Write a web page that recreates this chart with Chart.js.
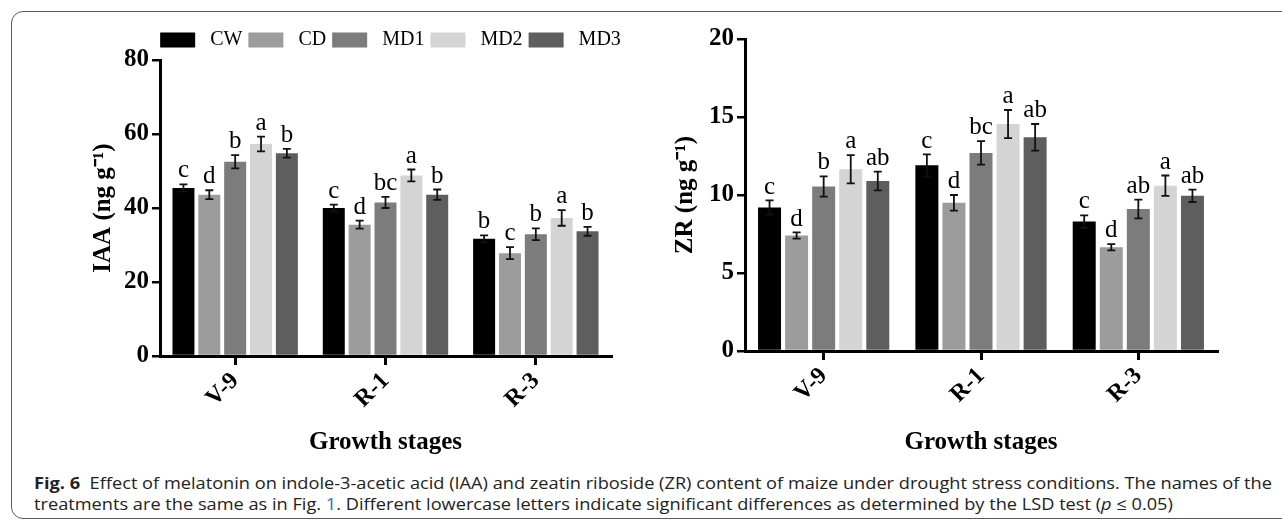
<!DOCTYPE html>
<html>
<head>
<meta charset="utf-8">
<script src="https://cdn.jsdelivr.net/npm/chart.js@4.4.1/dist/chart.umd.min.js"></script>
<style>
  html, body { margin: 0; padding: 0; background: #fff; }
  body { width: 1282px; height: 521px; position: relative; overflow: hidden; }
  .frame {
    position: absolute; left: 11px; top: 11px; width: 1300px; height: 508px;
    border: 1.5px solid #5a5a5a; border-radius: 12px; box-sizing: border-box;
  }
  canvas { position: absolute; top: 0; }
  #iaa { left: 0; }
  #zr { left: 640px; }
  .cap {
    position: absolute; left: 34px; white-space: nowrap;
    font-family: "Open Sans", "Noto Sans", sans-serif; font-size: 16.5px; line-height: 20px;
    color: #222; transform-origin: 0 50%;
  }
  .cap b { font-weight: 700; }
  .cap .ref { color: #2f6fba; }
</style>
</head>
<body>
<div class="frame"></div>
<canvas id="iaa" width="781" height="458"></canvas>
<canvas id="zr" width="642" height="458"></canvas>
<div class="cap" id="cap1" style="top:473px"><b>Fig. 6</b>&nbsp; Effect of melatonin on indole-3-acetic acid (IAA) and zeatin riboside (ZR) content of maize under drought stress conditions. The names of the</div>
<div class="cap" id="cap2" style="top:494px">treatments are the same as in Fig. <span class="ref">1</span>. Different lowercase letters indicate significant differences as determined by the LSD test (<i>p</i> ≤ 0.05)</div>
<script>
// growth stages
const stages = ["V-9", "R-1", "R-3"];
const treatments = ["CW", "CD", "MD1", "MD2", "MD3"];
const colors = ["#000000", "#9c9c9c", "#7c7c7c", "#d4d4d4", "#5e5e5e"];

// IAA (ng g-1)
const iaaCW = [45.4, 40.0, 31.7];
const iaaCD = [43.6, 35.5, 27.8];
const iaaMD1 = [52.5, 41.5, 32.9];
const iaaMD2 = [57.3, 48.8, 37.3];
const iaaMD3 = [54.8, 43.6, 33.7];
const iaaErr = [[1.0, 0.9, 0.9], [1.2, 1.1, 1.6], [1.8, 1.5, 1.6], [2.0, 1.6, 2.1], [1.2, 1.4, 1.2]];
const iaaLetters = [["c", "c", "b"], ["d", "d", "c"], ["b", "bc", "b"], ["a", "a", "a"], ["b", "b", "b"]];

// ZR (ng g-1)
const zrCW = [9.2, 11.9, 8.3];
const zrCD = [7.4, 9.5, 6.65];
const zrMD1 = [10.55, 12.7, 9.1];
const zrMD2 = [11.65, 14.55, 10.6];
const zrMD3 = [10.9, 13.7, 9.95];
const zrErr = [[0.45, 0.7, 0.4], [0.2, 0.5, 0.2], [0.65, 0.75, 0.6], [0.9, 0.9, 0.65], [0.6, 0.85, 0.4]];
const zrLetters = [["c", "c", "c"], ["d", "d", "d"], ["b", "bc", "ab"], ["a", "a", "a"], ["ab", "ab", "ab"]];

const serif = "'Liberation Serif', 'Times New Roman', serif";

// error bars + significance letters on top of each bar
const errorBars = {
  id: "errorBars",
  afterDatasetsDraw(chart, args, opts) {
    const ctx = chart.ctx;
    const y = chart.scales.y;
    ctx.save();
    chart.data.datasets.forEach((ds, i) => {
      const meta = chart.getDatasetMeta(i);
      meta.data.forEach((bar, j) => {
        const v = ds.data[j];
        const e = opts.err[i][j];
        const top = y.getPixelForValue(v + e);
        const bot = y.getPixelForValue(v - e);
        ctx.strokeStyle = "#111";
        ctx.lineWidth = 1.8;
        ctx.beginPath();
        ctx.moveTo(bar.x, top); ctx.lineTo(bar.x, bot);
        ctx.moveTo(bar.x - 4, top); ctx.lineTo(bar.x + 4, top);
        ctx.moveTo(bar.x - 4, bot); ctx.lineTo(bar.x + 4, bot);
        ctx.stroke();
        ctx.fillStyle = "#000";
        ctx.font = "25px " + serif;
        ctx.textAlign = "center";
        ctx.textBaseline = "bottom";
        ctx.fillText(opts.letters[i][j], bar.x, top - 1);
      });
    });
    ctx.restore();
  }
};

function makeDatasets(series) {
  return series.map((d, i) => ({
    label: treatments[i],
    data: d,
    backgroundColor: colors[i],
    borderWidth: 0,
    categoryPercentage: 0.86,
    barPercentage: 0.85
  }));
}

function axisOpts(o) {
  return {
    x: {
      grid: { display: true, drawOnChartArea: false, offset: false, tickLength: 9, lineWidth: 3, color: "#000" },
      border: { display: true, color: "#000", width: 3 },
      ticks: { font: { family: serif, size: 24, weight: "bold" }, color: "#000", minRotation: 45, maxRotation: 45, padding: 2 },
      title: { display: true, text: "Growth stages", font: { family: serif, size: 25, weight: "bold" }, color: "#000", padding: { top: 0, bottom: 0 } },
      afterFit(s) { s.height = o.xHeight; }
    },
    y: {
      min: 0, max: o.max,
      grid: { display: true, drawOnChartArea: false, tickLength: 8, lineWidth: 2.5, color: "#000" },
      border: { display: true, color: "#000", width: 3 },
      ticks: { stepSize: o.step, font: { family: serif, size: 25, weight: "bold" }, color: "#000", padding: 3 },
      title: { display: true, text: o.yTitle, font: { family: serif, size: 25, weight: "bold" }, color: "#000", padding: { top: o.titlePad, bottom: 0 } },
      afterFit(s) { s.width = o.yWidth; }
    }
  };
}

const iaaScales = axisOpts({ max: 80, step: 20, yTitle: "IAA (ng g\u207B\u00B9)", xHeight: 102, yWidth: 160, titlePad: 89 });
// empty box on the right so the legend can sit wider than the plot
iaaScales.yR = {
  type: "linear", position: "right", display: true,
  grid: { display: false }, border: { display: false }, ticks: { display: false },
  afterFit(s) { s.width = 170; }
};

new Chart(document.getElementById("iaa"), {
  type: "bar",
  data: { labels: stages, datasets: makeDatasets([iaaCW, iaaCD, iaaMD1, iaaMD2, iaaMD3]) },
  options: {
    responsive: false, animation: false, devicePixelRatio: 1, events: [],
    layout: { padding: { top: 24, left: 0, right: 0, bottom: 0 } },
    scales: iaaScales,
    plugins: {
      tooltip: { enabled: false },
      legend: {
        display: true, position: "top",
        labels: {
          boxWidth: 35, boxHeight: 15, padding: 6, color: "#000",
          font: { family: serif, size: 20 },
          generateLabels(chart) {
            const items = Chart.defaults.plugins.legend.labels.generateLabels(chart);
            items.forEach(it => { it.text = " " + it.text; it.lineWidth = 0; });
            return items;
          }
        }
      },
      errorBars: { err: iaaErr, letters: iaaLetters }
    }
  },
  plugins: [errorBars]
});

new Chart(document.getElementById("zr"), {
  type: "bar",
  data: { labels: stages, datasets: makeDatasets([zrCW, zrCD, zrMD1, zrMD2, zrMD3]) },
  options: {
    responsive: false, animation: false, devicePixelRatio: 1, events: [],
    layout: { padding: { top: 39, left: 0, right: 65, bottom: 0 } },
    scales: axisOpts({ max: 20, step: 5, yTitle: "ZR (ng g\u207B\u00B9)", xHeight: 107, yWidth: 105, titlePad: 31 }),
    plugins: {
      tooltip: { enabled: false },
      legend: { display: false },
      errorBars: { err: zrErr, letters: zrLetters }
    }
  },
  plugins: [errorBars]
});

// squeeze caption to the figure's narrow face
const c1 = document.getElementById("cap1"), c2 = document.getElementById("cap2");
const k = 1238 / c1.getBoundingClientRect().width;
c1.style.transform = c2.style.transform = "scaleX(" + k + ")";
</script>
</body>
</html>
